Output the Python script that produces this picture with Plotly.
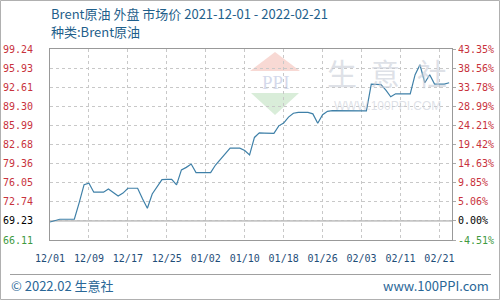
import pandas as pd
import plotly.graph_objects as go

# ---------------- data ----------------
start_date = "2021-12-01"
brent_prices = [
    69.23, 69.46, 69.71, 69.71, 69.71, 69.71, 72.60, 75.70, 75.96, 74.40,
    74.40, 74.40, 74.97, 74.33, 73.75, 74.24, 75.09, 75.09, 75.09, 73.25,
    71.62, 74.10, 75.40, 76.59, 76.62, 76.65, 75.66, 78.27, 78.71, 79.28,
    77.80, 77.80, 77.80, 77.80, 79.12, 80.16, 81.12, 82.04, 82.04, 82.04,
    81.62, 80.88, 83.90, 84.70, 84.66, 84.60, 84.60, 85.91, 86.38, 87.43,
    88.09, 88.26, 88.26, 88.24, 87.99, 86.35, 87.84, 88.43, 88.56, 88.57,
    88.57, 88.57, 88.57, 88.55, 88.55, 88.52, 93.16, 93.16, 93.07, 92.12,
    90.95, 91.47, 91.47, 91.47, 91.47, 94.78, 96.51, 93.39, 94.78, 93.16,
    93.16, 93.16, 93.39,
]
dates = pd.date_range(start_date, periods=len(brent_prices), freq="D")

tick_dates = ["2021-12-01", "2021-12-09", "2021-12-17", "2021-12-25", "2022-01-02",
              "2022-01-10", "2022-01-18", "2022-01-26", "2022-02-03", "2022-02-11",
              "2022-02-19"]
tick_labels = ["12/01", "12/09", "12/17", "12/25", "01/02", "01/10", "01/18",
               "01/26", "02/03", "02/11", "02/21"]

y_min, y_max = 66.11, 99.24
left_labels = ["66.11", "69.23", "72.74", "76.05", "79.36", "82.68", "85.99",
               "89.30", "92.61", "95.93", "99.24"]
right_labels = ["-4.51%", "0.00%", "5.06%", "9.85%", "14.63%", "19.42%", "24.21%",
                "28.99%", "33.78%", "38.56%", "43.35%"]

title_line1 = "Brent原油 外盘 市场价 2021-12-01 - 2022-02-21"
title_line2 = "种类:Brent原油"
footer_left = "© 2022.02 生意社"
footer_right = "www.100PPI.com"

# ---------------- styling ----------------
W, H = 500, 300
L, R, T, B = 50, 48, 49, 60
PW, PH = W - L - R, H - T - B
RED, GREEN, BLACK = "#c8323c", "#3f9a3f", "#000000"
TEXT_BLUE = "#1f5f8b"
MONO = "DejaVu Sans Mono"
CJK = "Noto Sans CJK SC"


def px(x):
    return (x - L) / PW


def py(y):
    return (H - B - y) / PH


n_ticks = len(left_labels)
step = (y_max - y_min) / (n_ticks - 1)
tick_vals = [y_min + i * step for i in range(n_ticks)]


def colored(labels):
    out = []
    for i, t in enumerate(labels):
        c = GREEN if i == 0 else (BLACK if i == 1 else RED)
        out.append(f'<span style="color:{c}">{t}</span>')
    return out


fig = go.Figure()
fig.add_trace(go.Scatter(x=dates, y=brent_prices, mode="lines",
                         line=dict(color="#3f80a8", width=1.2),
                         hoverinfo="skip", showlegend=False))
fig.add_trace(go.Scatter(x=[dates[0]], y=[brent_prices[0]], yaxis="y2",
                         mode="markers", marker=dict(opacity=0),
                         hoverinfo="skip", showlegend=False))

grid = dict(showgrid=True, gridcolor="#c8c8c8", griddash="dot", gridwidth=1)

fig.update_layout(
    width=W, height=H,
    margin=dict(l=L, r=R, t=T, b=B, autoexpand=False),
    paper_bgcolor="white", plot_bgcolor="white",
    xaxis=dict(type="date", range=["2021-12-01", "2022-02-21 14:00"],
               tickmode="array", tickvals=tick_dates, ticktext=tick_labels,
               tickfont=dict(family=MONO, size=10, color="#1f4e79"),
               showline=True, linecolor="#999999", linewidth=1, mirror=True,
               ticks="outside", ticklen=9, tickcolor="rgba(0,0,0,0)",
               zeroline=False, automargin=False, **grid),
    yaxis=dict(range=[y_min, y_max], tickmode="array", tickvals=tick_vals,
               ticktext=colored(left_labels),
               tickfont=dict(family=MONO, size=10),
               showline=True, linecolor="#999999", linewidth=1, mirror=True,
               ticks="outside", ticklen=14, tickcolor="rgba(0,0,0,0)",
               zeroline=False, automargin=False, **grid),
    yaxis2=dict(range=[y_min, y_max], overlaying="y", side="right",
                tickmode="array", tickvals=tick_vals,
                ticktext=colored(right_labels),
                tickfont=dict(family=MONO, size=10),
                ticks="outside", ticklen=3, tickcolor="#aaaaaa",
                showgrid=False, zeroline=False, showline=False, automargin=False),
)

shapes = []
# baseline (0.00%) solid line
shapes.append(dict(type="line", xref="paper", yref="y", x0=0, x1=1,
                   y0=tick_vals[1], y1=tick_vals[1],
                   line=dict(color="#a8a8a8", width=1.2), layer="below"))
# outer border
shapes.append(dict(type="rect", xref="paper", yref="paper",
                   x0=px(0.5), x1=px(W - 0.5), y0=py(H - 0.5), y1=py(0.5),
                   line=dict(color="#b0b0b0", width=1)))
# footer separator
shapes.append(dict(type="line", xref="paper", yref="paper",
                   x0=px(10), x1=px(491), y0=py(274.5), y1=py(274.5),
                   line=dict(color="#a0a0a0", width=1)))
# watermark logo (diamond)
shapes.append(dict(type="path", xref="paper", yref="paper",
                   path=f"M {px(250)},{py(71)} L {px(275)},{py(52)} L {px(300)},{py(71)} Z",
                   fillcolor="rgba(240,170,160,0.45)", line=dict(width=0), layer="below"))
shapes.append(dict(type="path", xref="paper", yref="paper",
                   path=f"M {px(251)},{py(93)} L {px(299)},{py(93)} L {px(275)},{py(115)} Z",
                   fillcolor="rgba(170,215,170,0.45)", line=dict(width=0), layer="below"))
fig.update_layout(shapes=shapes)

ann = []
ann.append(dict(text=title_line1, xref="paper", yref="paper", x=px(49), y=py(13),
                xanchor="left", yanchor="middle", showarrow=False,
                font=dict(family=CJK, size=13, color=TEXT_BLUE)))
ann.append(dict(text=title_line2, xref="paper", yref="paper", x=px(49), y=py(31),
                xanchor="left", yanchor="middle", showarrow=False,
                font=dict(family=CJK, size=13, color=TEXT_BLUE)))
ann.append(dict(text=footer_left, xref="paper", yref="paper", x=px(9), y=py(285),
                xanchor="left", yanchor="middle", showarrow=False,
                font=dict(family=CJK, size=13, color="#2a6797")))
ann.append(dict(text=footer_right, xref="paper", yref="paper", x=px(491), y=py(285),
                xanchor="right", yanchor="middle", showarrow=False,
                font=dict(family=CJK, size=13, color="#2a6797")))
# watermark texts
ann.append(dict(text="PPI", xref="paper", yref="paper", x=px(275), y=py(82),
                xanchor="center", yanchor="middle", showarrow=False,
                font=dict(family="Liberation Serif", size=19, color="rgba(170,180,215,0.5)")))
for ch, cx in zip("生意社", [342, 385, 432]):
    ann.append(dict(text=ch, xref="paper", yref="paper", x=px(cx), y=py(72),
                    xanchor="center", yanchor="middle", showarrow=False,
                    font=dict(family=CJK, size=30, color="rgba(200,205,215,0.6)")))
ann.append(dict(text="WWW.100PPI.COM", xref="paper", yref="paper", x=px(387), y=py(106),
                xanchor="center", yanchor="middle", showarrow=False,
                font=dict(family="Liberation Sans", size=12, color="rgba(200,205,215,0.6)")))
fig.update_layout(annotations=ann)

fig.write_html("out.html")
